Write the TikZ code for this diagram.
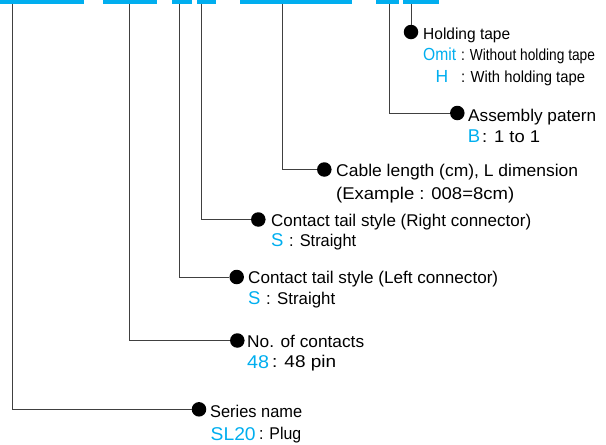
\documentclass[tikz,border=0pt]{standalone}
\usepackage{fontspec}
\setmainfont{Liberation Sans}
\usepackage{graphicx}
\definecolor{cyanb}{RGB}{0,174,239}
\newsavebox\fitbox
\newcommand\fitw[2]{\sbox\fitbox{#2}\pgfmathsetmacro\fitr{#1/\the\wd\fitbox}\scalebox{\fitr}[1]{\usebox\fitbox}}
\begin{document}
\begin{tikzpicture}[x=1pt,y=-1pt,
  bar/.style={rectangle,fill=cyanb,draw=none,inner sep=0pt,minimum height=4pt},
  dotnode/.style={circle,fill=black,draw=none,inner sep=0pt,minimum size=14.5pt},
  conn/.style={draw=black!75,line width=0.9pt},
  lbl/.style={inner sep=0pt,anchor=base west,font=\fontsize{17}{20}\selectfont},
  hl/.style={inner sep=0pt,anchor=base west,font=\fontsize{16}{18}\selectfont},
  bl/.style={inner sep=0pt,anchor=base west,text=cyanb,font=\fontsize{18.5}{20}\selectfont},
  hb/.style={inner sep=0pt,anchor=base west,text=cyanb,font=\fontsize{17.5}{20}\selectfont}]
\useasboundingbox (0,0) rectangle (606,445);
% bars
\node[bar,minimum width=84pt] (b1) at (42,2) {};
\node[bar,minimum width=54pt] (b2) at (130,2) {};
\node[bar,minimum width=20pt] (b3) at (182,2) {};
\node[bar,minimum width=19pt] (b4) at (206.5,2) {};
\node[bar,minimum width=112pt] (b5) at (296,2) {};
\node[bar,minimum width=23pt] (b6) at (387.5,2) {};
\node[bar,minimum width=36pt] (b7) at (421,2) {};
% connector tops
\coordinate (t1) at (12.3,4);
\coordinate (t2) at (129.5,4);
\coordinate (t3) at (179,4);
\coordinate (t4) at (201,4);
\coordinate (t5) at (282.7,4);
\coordinate (t6) at (389.3,4);
\coordinate (t7) at (411,4);
% dots
\node[dotnode] (d1) at (411,32) {};
\node[dotnode] (d2) at (457.3,113) {};
\node[dotnode] (d3) at (324.3,169.5) {};
\node[dotnode] (d4) at (258.3,219.5) {};
\node[dotnode] (d5) at (236.7,277) {};
\node[dotnode] (d6) at (237.3,340.5) {};
\node[dotnode] (d7) at (199,409.3) {};
% connectors
\draw[conn] (t7) -- (d1);
\draw[conn] (t6) |- (d2);
\draw[conn] (t5) |- (d3);
\draw[conn] (t4) |- (d4);
\draw[conn] (t3) |- (d5);
\draw[conn] (t2) |- (d6);
\draw[conn] (t1) |- (d7);
% holding tape
\node[hl] (h1) at (423,39) {\fitw{87}{Holding tape}};
\node[hb] (h2a) at (423,60.5) {\fitw{33}{Omit}};
\node[hl] (h2b) at (460.8,60) {\fitw{134}{: Without holding tape}};
\node[hb] (h3a) at (435.5,82.5) {H};
\node[hl] (h3b) at (460.8,82) {\fitw{124}{: With holding tape}};
% assembly
\node[lbl] (a1) at (468,121.5) {\fitw{128}{Assembly patern}};
\node[bl] (a2a) at (467.6,142.5) {B};
\node[lbl] (a2b) at (482,142) {\fitw{58}{: 1 to 1}};
% cable
\node[lbl] (c1) at (336,176.5) {\fitw{242}{Cable length (cm), L dimension}};
\node[lbl] (c2) at (336,199.5) {\fitw{178}{(Example : 008=8cm)}};
% right connector
\node[lbl] (r1) at (271,226) {\fitw{260}{Contact tail style (Right connector)}};
\node[bl] (r2a) at (271,246.5) {S};
\node[lbl] (r2b) at (289,246) {\fitw{67}{: Straight}};
% left connector
\node[lbl] (l1) at (248,283.5) {\fitw{250}{Contact tail style (Left connector)}};
\node[bl] (l2a) at (248,304.5) {S};
\node[lbl] (l2b) at (266,304) {\fitw{69}{: Straight}};
% contacts
\node[lbl] (n1) at (247,347) {\fitw{117}{No. of contacts}};
\node[bl] (n2a) at (247,368) {\fitw{22}{48}};
\node[lbl] (n2b) at (272,367.5) {\fitw{64}{: 48 pin}};
% series
\node[lbl] (s1) at (210,417) {\fitw{92}{Series name}};
\node[bl] (s2a) at (210.5,440) {\fitw{45}{SL20}};
\node[lbl] (s2b) at (259,439.5) {\fitw{42}{: Plug}};
\end{tikzpicture}
\end{document}
